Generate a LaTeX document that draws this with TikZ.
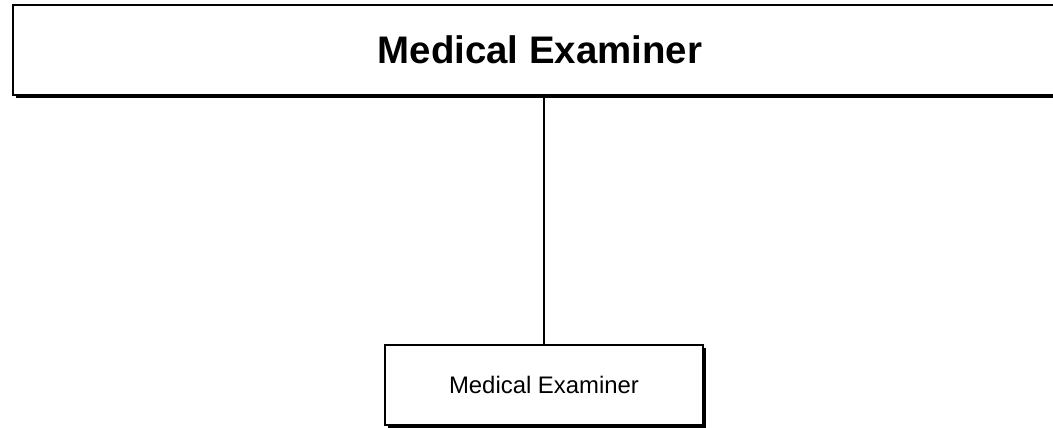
\documentclass[tikz,border=0pt]{standalone}
\usepackage{fontspec}
\setmainfont{Liberation Sans}
\usetikzlibrary{shadows}
\begin{document}
\begin{tikzpicture}[x=1pt, y=1pt]
    \tikzstyle{unitbox}=[draw=black, line width=1.4pt, fill=white, inner sep=0pt,
      drop shadow={shadow xshift=3pt, shadow yshift=-3.5pt, fill=black, opacity=1}]
    \useasboundingbox (0,0) rectangle (1053,428);
    \node[unitbox, minimum width=1054pt, minimum height=90pt,
      font=\fontsize{38.4}{42}\selectfont\bfseries] (head) at (540,378) {Medical Examiner};
    \node[unitbox, minimum width=318pt, minimum height=80pt,
      font=\fontsize{23.9}{26}\selectfont] (unit) at (544,43) {Medical Examiner};
    \draw[line width=1.6pt] (unit.north) -- (unit.north |- head.south);
  \end{tikzpicture}
\end{document}
